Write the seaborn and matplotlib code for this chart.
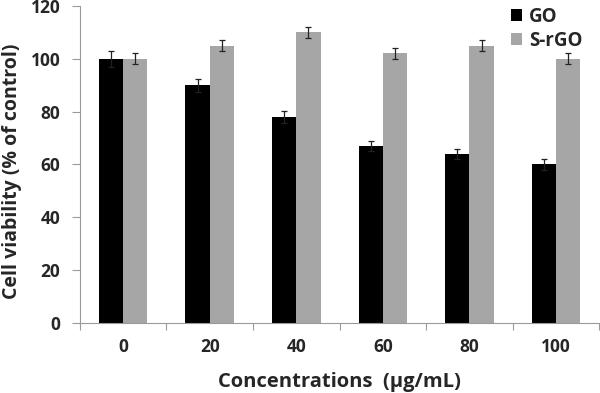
import pandas as pd
import numpy as np
import matplotlib
matplotlib.use("Agg")
import matplotlib.pyplot as plt
import seaborn as sns

# ===== DATA =====
concentrations = ["0", "20", "40", "60", "80", "100"]
go_values = [100, 90, 78, 67, 64, 60]
go_err = [3.0, 2.5, 2.4, 2.0, 2.0, 2.0]
srgo_values = [100, 105, 110, 102, 105, 100]
srgo_err = [2.0, 2.2, 2.1, 2.2, 2.0, 2.0]
series_names = ["GO", "S-rGO"]
yticks = [0, 20, 40, 60, 80, 100, 120]

# Colors
colors = {"GO": "#000000", "S-rGO": "#a6a6a6"}
AXIS_GRAY = "#9a9a9a"


def plot_results():
    df = pd.DataFrame({
        "Concentration": concentrations * 2,
        "Viability": go_values + srgo_values,
        "Err": go_err + srgo_err,
        "Sample": [series_names[0]] * len(concentrations) + [series_names[1]] * len(concentrations),
    })

    sns.set_theme(style="white")
    plt.rcParams["font.family"] = ["Open Sans", "DejaVu Sans"]
    plt.rcParams["font.weight"] = "bold"

    fig = plt.figure(figsize=(6.0, 3.93), dpi=100)
    ax = fig.add_axes([0.133, 0.178, 0.866, 0.807])

    sns.barplot(data=df, x="Concentration", y="Viability", hue="Sample",
                palette=colors, order=concentrations, hue_order=series_names,
                width=0.56, errorbar=None, saturation=1, linewidth=0,
                edgecolor="none", ax=ax)

    # error bars on top of each bar, taken from the bar patches
    for container, name in zip(ax.containers, series_names):
        errs = df.loc[df["Sample"] == name, "Err"].values
        for bar, e in zip(container, errs):
            xc = bar.get_x() + bar.get_width() / 2
            ax.errorbar(xc, bar.get_height(), yerr=e, fmt="none",
                        ecolor="#222222", elinewidth=0.9, capsize=2.5, capthick=0.9)

    # --- AXES FORMATTING ---
    ax.set_ylim(0, 120)
    ax.set_xlim(-0.5, len(concentrations) - 0.5)
    ax.set_yticks(yticks)
    ax.set_yticklabels([str(t) for t in yticks], fontsize=12.5, fontweight="bold")
    ax.set_xticks(range(len(concentrations)))
    ax.set_xticklabels(concentrations, fontsize=12.5, fontweight="bold")
    ax.set_xticks(np.arange(-0.5, len(concentrations), 1.0), minor=True)
    ax.tick_params(axis="x", which="major", length=0, pad=11)
    ax.tick_params(axis="x", which="minor", length=5, width=0.8, color=AXIS_GRAY, bottom=True)
    ax.tick_params(axis="y", which="major", length=6, width=0.8, color=AXIS_GRAY, left=True, pad=8)

    for side in ["top", "right"]:
        ax.spines[side].set_visible(False)
    for side in ["left", "bottom"]:
        ax.spines[side].set_color(AXIS_GRAY)
        ax.spines[side].set_linewidth(0.8)

    ax.set_xlabel("Concentrations  (μg/mL)", fontsize=14.5, fontweight="bold", labelpad=11)
    ax.set_ylabel("Cell viability (% of control)", fontsize=14, fontweight="bold")
    ax.yaxis.set_label_coords(-0.112, 0.48)

    leg = ax.legend(loc="upper right", bbox_to_anchor=(1.0, 1.05), frameon=False,
                    fontsize=13.5, handlelength=0.6, handleheight=0.6,
                    handletextpad=0.35, labelspacing=0.2)
    for t in leg.get_texts():
        t.set_fontweight("bold")

    plt.savefig("out.png", dpi=100)


if __name__ == "__main__":
    plot_results()
